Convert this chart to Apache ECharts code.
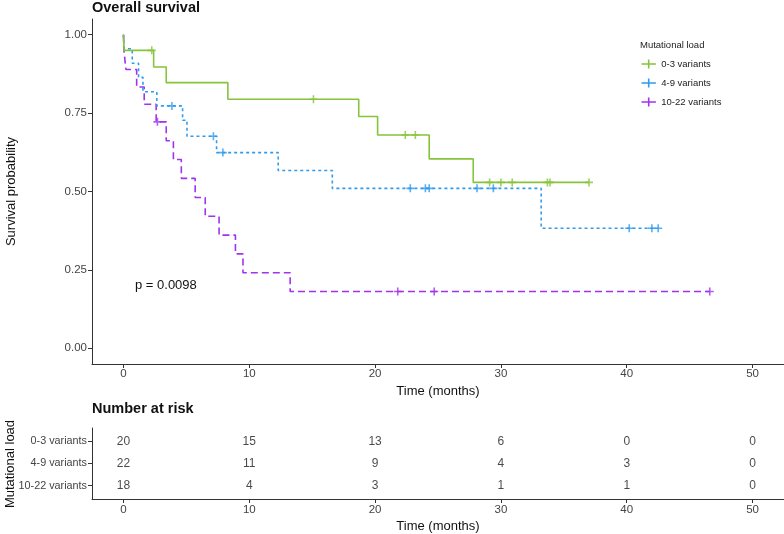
<!DOCTYPE html>
<html>
<head>
<meta charset="utf-8">
<script src="https://cdn.jsdelivr.net/npm/echarts@6/dist/echarts.min.js"></script>
<style>
html,body{margin:0;padding:0;background:#fff;}
#c{width:784px;height:534px;}
</style>
</head>
<body>
<div id="c"></div>
<script>
// ---- data ----
const timeTicks = [0, 10, 20, 30, 40, 50];
const probTicks = [0, 0.25, 0.5, 0.75, 1];
const groups = ['0-3 variants', '4-9 variants', '10-22 variants'];

const greenTime = [0, 0.05, 2.4, 3.4, 8.3, 18.7, 20.2, 24.3, 27.8, 37.0];
const greenSurv = [1, 0.95, 0.897, 0.847, 0.794, 0.739, 0.680, 0.604, 0.529, 0.529];
const greenCensTime = [2.25, 15.1, 22.4, 23.2, 29.1, 30.0, 30.9, 33.7, 33.9, 37.0];
const greenCensSurv = [0.95, 0.794, 0.680, 0.680, 0.529, 0.529, 0.529, 0.529, 0.529, 0.529];

const blueTime = [0, 0.05, 0.7, 1.2, 1.55, 2.65, 4.7, 5.05, 7.4, 12.3, 16.6, 33.2, 42.5];
const blueSurv = [1, 0.955, 0.909, 0.864, 0.818, 0.773, 0.727, 0.676, 0.624, 0.567, 0.510, 0.383, 0.383];
const blueCensTime = [3.85, 7.15, 7.9, 22.8, 24.0, 24.3, 28.1, 29.4, 40.2, 42.0, 42.5];
const blueCensSurv = [0.773, 0.676, 0.624, 0.510, 0.510, 0.510, 0.510, 0.510, 0.383, 0.383, 0.383];

const purpleTime = [0, 0.05, 0.2, 1.05, 1.65, 2.6, 3.4, 3.97, 4.6, 5.7, 6.5, 7.6, 8.9, 9.5, 13.25, 46.6];
const purpleSurv = [1, 0.944, 0.889, 0.833, 0.778, 0.722, 0.662, 0.602, 0.542, 0.481, 0.421, 0.361, 0.301, 0.241, 0.181, 0.181];
const purpleCensTime = [2.7, 21.8, 24.7, 46.6];
const purpleCensSurv = [0.722, 0.181, 0.181, 0.181];

const riskTimes = [0, 10, 20, 30, 40, 50];
const risk03 = [20, 15, 13, 6, 0, 0];
const risk49 = [22, 11, 9, 4, 3, 0];
const risk1022 = [18, 4, 3, 1, 1, 0];

const pValueText = 'p = 0.0098';

// ---- styles ----
const FONT = 'Liberation Sans, Arial, sans-serif';
const COLORS = ['#86C43A', '#2F9BF0', '#A033EE'];
const LINE_TYPES = ['solid', [3, 3], [7, 4]];
const PLUS = 'path://M-5,0L5,0M0,-5L0,5';

const zip = (a, b) => a.map((v, i) => [v, b[i]]);

const curves = [
  [greenTime, greenSurv, greenCensTime, greenCensSurv],
  [blueTime, blueSurv, blueCensTime, blueCensSurv],
  [purpleTime, purpleSurv, purpleCensTime, purpleCensSurv]
];

const series = [];
curves.forEach((c, i) => {
  series.push({
    name: groups[i], type: 'line', step: 'end', xAxisIndex: 0, yAxisIndex: 0,
    data: zip(c[0], c[1]), symbol: 'none', silent: true,
    lineStyle: { color: COLORS[i], width: 1.6, type: LINE_TYPES[i] },
    itemStyle: { color: COLORS[i] }, z: 3 - i
  });
  series.push({
    name: groups[i], type: 'scatter', xAxisIndex: 0, yAxisIndex: 0,
    data: zip(c[2], c[3]), symbol: PLUS, symbolSize: 8, silent: true,
    itemStyle: { color: 'none', borderColor: COLORS[i], borderWidth: 1.6 }, z: 4
  });
});

const riskRows = [risk03, risk49, risk1022];
const riskData = [];
riskRows.forEach((row, r) => row.forEach((n, k) => riskData.push([riskTimes[k], r + 1, n])));
series.push({
  type: 'scatter', xAxisIndex: 1, yAxisIndex: 1, data: riskData, symbolSize: 0, silent: true,
  label: { show: true, position: 'inside', formatter: p => String(p.data[2]),
    color: '#1a1a1a', fontSize: 12, fontFamily: FONT }
});

const axisLineStyle = { show: true, onZero: false, lineStyle: { color: '#333', width: 1 } };
const tickLab = { color: '#444', fontSize: 11.5, fontFamily: FONT };
const nameStyle = { color: '#111', fontSize: 13, fontFamily: FONT };

const option = {
  animation: false,
  backgroundColor: '#fff',
  title: [
    { text: 'Overall survival', left: 92, top: 0, padding: 0,
      textStyle: { fontSize: 14.5, fontWeight: 'bold', color: '#111', fontFamily: FONT } },
    { text: 'Number at risk', left: 92, top: 401, padding: 0,
      textStyle: { fontSize: 14.5, fontWeight: 'bold', color: '#111', fontFamily: FONT } },
    { text: 'Mutational load', left: 640, top: 40, padding: 0,
      textStyle: { fontSize: 9.5, fontWeight: 'normal', color: '#222', fontFamily: FONT } }
  ],
  legend: {
    orient: 'vertical', left: 639, top: 57, padding: 0, itemGap: 5,
    itemWidth: 15, itemHeight: 9,
    textStyle: { fontSize: 9.5, color: '#222', fontFamily: FONT },
    data: groups.map((g, i) => ({
      name: g, icon: 'path://M0,5L16,5M8,0L8,10',
      itemStyle: { color: 'none', borderColor: COLORS[i], borderWidth: 1.6 }
    }))
  },
  graphic: [
    { type: 'text', left: 135, top: 279,
      style: { text: pValueText, fontSize: 13, fontFamily: FONT, fill: '#111' } },
    { type: 'text', x: 4, y: 464, rotation: Math.PI / 2,
      style: { text: 'Mutational load', fontSize: 13, fontFamily: FONT, fill: '#111',
        align: 'center', verticalAlign: 'top' } }
  ],
  grid: [
    { left: 92, right: 0, top: 19, height: 345, containLabel: false, outerBoundsMode: 'none' },
    { left: 92, right: 0, top: 428, height: 71, containLabel: false, outerBoundsMode: 'none' }
  ],
  xAxis: [
    { type: 'value', gridIndex: 0, min: -2.5, max: 52.5,
      name: 'Time (months)', nameLocation: 'middle', nameGap: 17, nameTextStyle: nameStyle,
      axisLine: axisLineStyle, splitLine: { show: false },
      axisTick: { show: true, length: 4, customValues: timeTicks, lineStyle: { color: '#333' } },
      axisLabel: Object.assign({ customValues: timeTicks, margin: 4 }, tickLab) },
    { type: 'value', gridIndex: 1, min: -2.5, max: 52.5,
      name: 'Time (months)', nameLocation: 'middle', nameGap: 21, nameTextStyle: nameStyle,
      axisLine: axisLineStyle, splitLine: { show: false },
      axisTick: { show: true, length: 4, customValues: timeTicks, lineStyle: { color: '#333' } },
      axisLabel: Object.assign({ customValues: timeTicks, margin: 5 }, tickLab) }
  ],
  yAxis: [
    { type: 'value', gridIndex: 0, min: -0.05, max: 1.05,
      name: 'Survival probability', nameLocation: 'middle', nameGap: 74, nameRotate: 90,
      nameTextStyle: nameStyle,
      axisLine: axisLineStyle, splitLine: { show: false },
      axisTick: { show: true, length: 4, customValues: probTicks, lineStyle: { color: '#333' } },
      axisLabel: Object.assign({ customValues: probTicks, margin: 5, formatter: v => v.toFixed(2) }, tickLab) },
    { type: 'value', gridIndex: 1, min: 0.4, max: 3.6, inverse: true,
      axisLine: axisLineStyle, splitLine: { show: false },
      axisTick: { show: true, length: 4, customValues: [1, 2, 3], lineStyle: { color: '#333' } },
      axisLabel: Object.assign({}, tickLab, { customValues: [1, 2, 3], margin: 5, fontSize: 10.8,
        formatter: v => groups[Math.round(v) - 1] }) }
  ],
  series: series
};

const chart = echarts.init(document.getElementById('c'), null, { renderer: 'canvas' });
chart.setOption(option);
</script>
</body>
</html>
